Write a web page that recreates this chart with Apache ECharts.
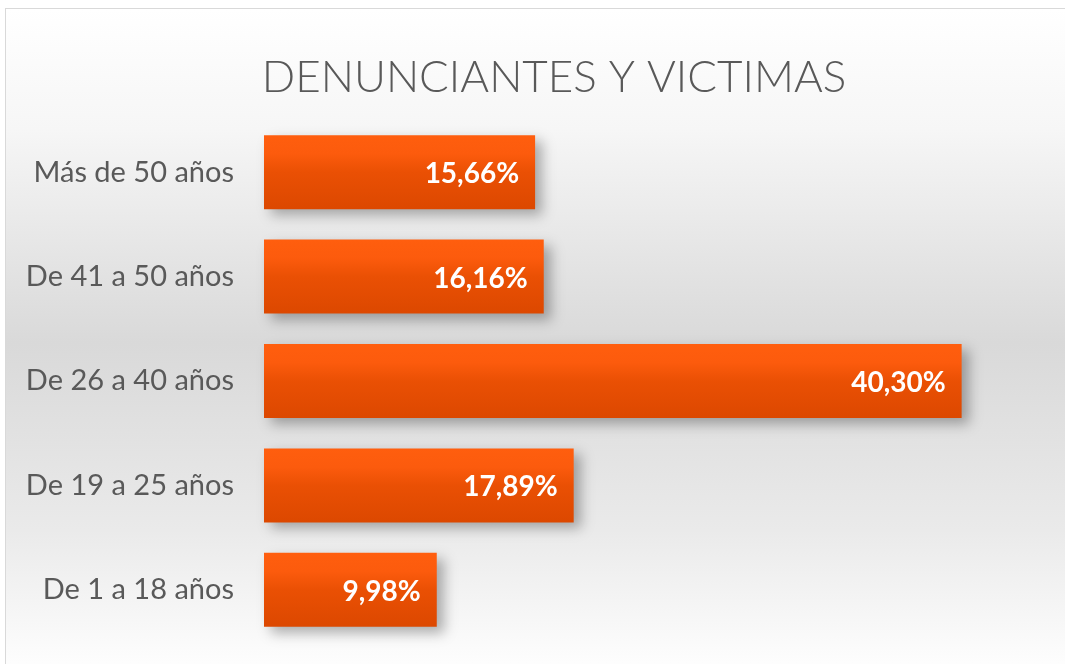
<!DOCTYPE html>
<html>
<head>
<meta charset="utf-8">
<script src="https://cdn.jsdelivr.net/npm/echarts@6/dist/echarts.min.js"></script>
<style>
html,body{margin:0;padding:0;background:#ffffff;width:1065px;height:664px;overflow:hidden;}
#bg{position:absolute;left:5px;top:8px;width:1070px;height:670px;border:1px solid #d9d9d9;box-sizing:border-box;
background:linear-gradient(to bottom,#ffffff 0%,#f6f6f6 18%,#d9d9d9 50%,#eaeaea 78%,#ffffff 100%);}
#chart{position:absolute;left:0;top:0;width:1065px;height:664px;}
</style>
</head>
<body>
<div id="bg"></div>
<div id="chart"></div>
<script>
const titleText = 'DENUNCIANTES Y VICTIMAS';
const categories = ['De 1 a 18 años', 'De 19 a 25 años', 'De 26 a 40 años', 'De 41 a 50 años', 'Más de 50 años'];
const values = [9.98, 17.89, 40.30, 16.16, 15.66];

const chart = echarts.init(document.getElementById('chart'), null, {renderer:'canvas'});
const option = {
  backgroundColor: 'transparent',
  title: {
    text: titleText,
    left: 549,
    textAlign: 'center',
    top: 51,
    textStyle: {
      fontFamily: 'Lato',
      fontWeight: 300,
      fontSize: 44,
      color: '#595959'
    }
  },
  grid: {
    left: 264,
    right: 22,
    top: 120,
    height: 522,
    containLabel: false
  },
  xAxis: {
    type: 'value',
    min: 0,
    max: 45,
    show: false
  },
  yAxis: {
    type: 'category',
    data: categories,
    axisLine: {show: false},
    axisTick: {show: false},
    splitLine: {show: false},
    axisLabel: {
      margin: 30,
      fontFamily: 'Lato',
      fontSize: 29,
      color: '#595959'
    }
  },
  series: [{
    type: 'bar',
    data: values,
    barWidth: 74,
    itemStyle: {
      color: new echarts.graphic.LinearGradient(0, 0, 0, 1, [
        {offset: 0, color: '#ff5e0e'},
        {offset: 0.25, color: '#fc5b0d'},
        {offset: 0.5, color: '#ea5004'},
        {offset: 1, color: '#dc4800'}
      ]),
      shadowColor: 'rgba(0,0,0,0.3)',
      shadowBlur: 12,
      shadowOffsetX: 7,
      shadowOffsetY: 6
    },
    label: {
      show: true,
      position: 'insideRight',
      distance: 16,
      offset: [0, 2],
      fontFamily: 'Lato',
      fontWeight: 'bold',
      fontSize: 28,
      color: '#ffffff',
      formatter: p => p.value.toFixed(2).replace('.', ',') + '%'
    }
  }]
};
chart.setOption(option);
</script>
</body>
</html>
